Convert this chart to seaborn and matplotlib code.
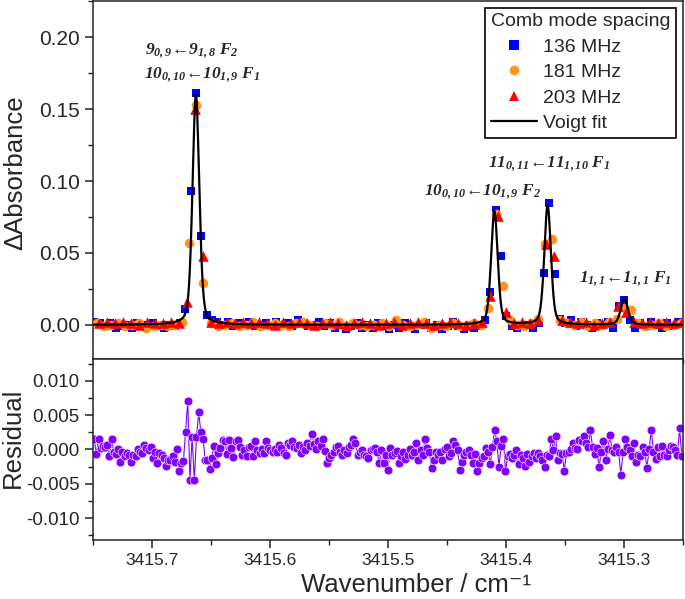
import numpy as np
import matplotlib
matplotlib.use("Agg")
import matplotlib.pyplot as plt
import seaborn as sns
from matplotlib.lines import Line2D
from matplotlib.ticker import MultipleLocator, FormatStrFormatter

# ---------------- data ----------------
comb_labels = ["136 MHz", "181 MHz", "203 MHz"]
comb_spacing_cm = [0.004537, 0.006037, 0.006771]   # comb mode spacing in cm-1
first_wn = [3415.74896, 3415.74694, 3415.74510]     # first sampled wavenumber

abs_136 = [
    0.002, 0.001, -0.001, 0.001, -0.002, -0.001, 0.000, -0.002, 0.001, 0.000,
    -0.001, 0.001, -0.001, -0.002, 0.000, -0.001, 0.001,
    0.011, 0.093, 0.161, 0.062, 0.007,
    0.003, 0.002, 0.000, 0.002, -0.001, 0.001, 0.000, 0.002, -0.001, 0.000,
    0.001, -0.001, 0.002, 0.000, 0.001, -0.001, 0.003, 0.001, -0.001, 0.000,
    0.002, -0.001, 0.001, -0.002, 0.000, -0.003, -0.001, 0.001, -0.002, 0.000,
    -0.002, 0.001, -0.001, -0.003, 0.000, -0.002, 0.001, -0.001, -0.003, 0.000,
    0.001, -0.002, 0.000, -0.003, -0.001, 0.002, -0.001, -0.003, 0.000, -0.002,
    -0.001,
    0.003, 0.023, 0.080, 0.048, 0.006,
    -0.001, -0.002, -0.001, 0.000, -0.002, 0.001,
    0.036, 0.085, 0.035, 0.004,
    0.001, 0.003, -0.001, 0.002, 0.000, -0.002, 0.001, 0.000, 0.002, -0.002,
    0.013, 0.017, 0.003,
    -0.002, 0.001, -0.001, 0.002, 0.000, -0.002, 0.001, -0.001, 0.002,
]
abs_181 = [
    0.001, -0.001, 0.000, 0.001, -0.001, 0.000, 0.001, -0.002, -0.001, 0.000,
    -0.001, 0.000,
    0.002, 0.057, 0.153, 0.029, 0.001,
    -0.001, 0.000, 0.001, -0.001, 0.000, 0.002, -0.001, 0.000, 0.001, 0.000,
    -0.001, 0.001, 0.002, 0.000, -0.001, 0.001, 0.000, 0.002, -0.001, 0.001,
    0.000, -0.001, 0.000, 0.001, -0.001, 0.003, 0.000, -0.001, 0.000, 0.002,
    -0.002, 0.000, -0.001, 0.001, -0.001, 0.000, 0.001, 0.000,
    0.012, 0.077, 0.027, 0.003,
    0.000, -0.001, 0.001,
    0.004, 0.056, 0.060, 0.003,
    0.001, 0.000, 0.002, -0.001, 0.001, 0.000, 0.002,
    0.004, 0.012, 0.010,
    0.001, -0.001, 0.000, 0.001, -0.001, 0.000, 0.001,
]
abs_203 = [
    0.001, 0.002, 0.001, 0.002, 0.001, 0.000, 0.002, 0.001, 0.001, 0.002, 0.001,
    0.016, 0.150, 0.048, 0.002,
    0.001, 0.002, 0.001, 0.002, 0.001, 0.002, 0.001, 0.000, 0.002, 0.001,
    0.002, 0.001, 0.000, 0.001, 0.002, 0.001, 0.000, 0.001, 0.002, 0.001,
    0.000, 0.001, 0.002, 0.000, 0.001, 0.002, 0.001, 0.000, 0.001, 0.002,
    0.001, 0.000, 0.001, 0.002,
    0.020, 0.076, 0.009, 0.001,
    0.002, 0.001,
    0.003, 0.056, 0.048, 0.003,
    0.002, 0.001, 0.002, 0.000, 0.001, 0.002,
    0.013, 0.009,
    0.002, 0.001, 0.002, 0.001, 0.002, 0.001, 0.002,
]

# Voigt fit parameters (pseudo-Voigt)
peak_center = [3415.6628, 3415.4098, 3415.3647, 3415.2997]
peak_height = [0.160, 0.079, 0.083, 0.018]
peak_fwhm = [0.0068, 0.0066, 0.0066, 0.0072]
lorentz_frac = 0.35

# fit residual, in units of 1e-3
resid_milli = [
    1.5, -0.7, 1.5, 0.2, 0.5, 0.3, 0.7, -0.9, 1.5, -0.3, -0.6, 0.0, -1.8, -0.3, -1.0,
    -0.5, -0.8, -1.8, -0.8, -1.0, 0.0, -0.3, -0.5, 0.7, 0.2, -0.1, 0.4, -1.3, -0.3, -2.0,
    -0.5, -0.8, -1.2, -2.4, -1.5, -1.5, -1.0, -1.8, 0.0, -3.2, -1.9, -1.7, 2.6, 7.0, -4.4,
    1.8, -4.5, 1.8, 5.4, 2.6, 1.6, -1.6, -1.6, -2.9, -1.3, 0.5, -2.1, -0.5, 0.2, 1.4,
    1.3, -0.6, 1.4, 0.2, -1.1, 1.2,
    1.4, 0.4, -0.8, -0.1, -1.0, 0.3, 0.5, -1.0, 1.3, -0.1, -0.5, 0.0, -0.5, 1.2, 0.2,
    -0.1, -0.3, 0.0, -0.3, 0.7, 0.2, -0.5, -0.8, 0.9, 0.7, 1.2, 0.4, 0.2, 0.7, -0.5,
    0.3, -0.1, 0.9, 0.5, 2.3, 0.8, 0.0, 1.2, 0.5, 1.6, -0.2, -1.9, -1.3, -0.8, -0.3,
    0.3, 0.5, -0.4, -0.8, -0.1, -0.5, 0.3, 0.7, 1.6, 0.9, -0.8, -0.3, -0.1, -0.8, -1.0,
    -1.3, -0.1, 0.1, 0.2, -0.3, -2.0,
    -0.1, -2.0, -0.8, -3.0, 0.2, -0.8, -0.5, -0.2, -2.0, -1.0, -0.3, -1.4, -0.8, 0.0, -0.8,
    -0.3, 0.9, -1.6, -0.1, -0.8, 1.5, 0.2, -0.3, -2.7, -1.5, -0.3, -0.8, -0.3, -1.5, 0.0,
    0.3, -1.0, -0.5, 1.3, 0.7, -0.1, -3.0, -1.8, -0.8, -0.3, -0.1, -0.8, -2.0, -0.6, -3.1,
    -1.9, -1.3, -1.0, 0.2, -0.3, -2.1, 0.4, 2.9, 1.2, -2.5, 0.5, 1.6, -3.2, -1.0, -0.6,
    -1.3, -0.8, -0.1, -2.1, -0.8, -1.3, -2.4, -0.6, -1.8, -1.0, -0.5, -1.3,
    -0.5, -1.0, -1.5, -2.5, -0.8, -1.0, 1.6, -0.1, 1.9, -1.5, -0.5, -0.6, -3.1, -0.5, -0.3,
    0.0, 1.0, 0.2, 0.0, 1.4, 1.3, 1.9, 1.0, 0.3, 2.8, 0.4, -0.6, 0.2, -2.6, -0.3,
    1.3, -1.6, 0.0, 2.1, -0.1, -0.3, 0.3, -0.3, -3.7, -0.3, 1.5, 0.4, -0.1, -0.9, 0.9,
    -1.8, -0.8, -1.0, 0.3, -0.3, -2.7, 0.0, 2.8, -0.3, -1.4, 0.3, -1.0, 0.5, -0.8, -1.0,
    -0.1, 0.5, 0.3, -0.1, -0.8, 3.1, -0.9,
]

annotations = [
    ("$9_{0,9}$←$9_{1,8}$ $F_2$", 3415.6666, 0.191),
    ("$10_{0,10}$←$10_{1,9}$ $F_1$", 3415.6576, 0.1738),
    ("$11_{0,11}$←$11_{1,10}$ $F_1$", 3415.3638, 0.112),
    ("$10_{0,10}$←$10_{1,9}$ $F_2$", 3415.4196, 0.0929),
    ("$1_{1,1}$←$1_{1,1}$ $F_1$", 3415.2987, 0.0319),
]

# ---------------- style ----------------
sns.set_style("ticks")
plt.rcParams["font.family"] = ["Liberation Sans", "DejaVu Sans"]
plt.rcParams["axes.unicode_minus"] = False
plt.rcParams["mathtext.fontset"] = "custom"
plt.rcParams["mathtext.rm"] = "Liberation Serif:bold:italic"
plt.rcParams["mathtext.it"] = "Liberation Serif:bold:italic"
plt.rcParams["mathtext.bf"] = "Liberation Serif:bold:italic"

colors = ["#0000ff", "#ff9422", "#ff0000"]
markers = ["s", "o", "^"]
sizes = [40, 48, 58]
purple = "#8000ff"

XMIN, XMAX = 3415.75, 3415.25

fig = plt.figure(figsize=(6.85, 5.99), dpi=100)
L, R = 0.1358, 0.997
ax1 = fig.add_axes([L, 0.4007, R - L, 0.999 - 0.4007])
ax2 = fig.add_axes([L, 0.0985, R - L, 0.4007 - 0.0985])

# measured absorbance
series = [abs_136, abs_181, abs_203]
for vals, sp, x0, c, m, s in zip(series, comb_spacing_cm, first_wn, colors, markers, sizes):
    x = x0 - sp * np.arange(len(vals))
    sns.scatterplot(x=x, y=vals, marker=m, color=c, s=s, linewidth=0, ax=ax1, zorder=3)

# Voigt fit
xf = np.linspace(XMIN, XMAX, 3000)
yf = np.zeros_like(xf)
for c0, h, w in zip(peak_center, peak_height, peak_fwhm):
    d2 = 4 * (xf - c0) ** 2 / w ** 2
    yf += h * (lorentz_frac / (1 + d2) + (1 - lorentz_frac) * np.exp(-np.log(2) * d2))
sns.lineplot(x=xf, y=yf, color="black", lw=1.6, ax=ax1, zorder=5, sort=False, estimator=None)

for txt, xa, ya in annotations:
    ax1.text(xa, ya, txt, ha="center", va="center", fontsize=12.5, zorder=6,
             family=["Liberation Serif", "DejaVu Serif"], style="italic", weight="bold")

ax1.set_xlim(XMIN, XMAX)
ax1.set_ylim(-0.0238, 0.2255)
ax1.yaxis.set_major_locator(MultipleLocator(0.05))
ax1.yaxis.set_minor_locator(MultipleLocator(0.025))
ax1.yaxis.set_major_formatter(FormatStrFormatter("%.2f"))
ax1.xaxis.set_major_locator(MultipleLocator(0.1))
ax1.xaxis.set_minor_locator(MultipleLocator(0.05))
ax1.tick_params(axis="x", labelbottom=False)
ax1.tick_params(axis="y", labelsize=15)
ax1.set_ylabel("ΔAbsorbance", fontsize=18.5)
ax1.yaxis.set_label_coords(-0.112, 0.52)
ax1.set_xlabel("")

handles = [Line2D([], [], ls="", marker=m, color=c, markersize=ms, markeredgewidth=0)
           for m, c, ms in zip(markers, colors, [6.5, 7, 7.5])]
handles.append(Line2D([], [], color="black", lw=1.6))
leg = ax1.legend(handles, comb_labels + ["Voigt fit"], title="Comb mode spacing",
                 loc="upper right", bbox_to_anchor=(1 - 7 / 590, 1 - 7 / 359),
                 borderaxespad=0, fontsize=14, title_fontsize=14, fancybox=False,
                 framealpha=1, edgecolor="black", handlelength=2.4, handletextpad=0.3,
                 borderpad=0.3, labelspacing=0.4, alignment="left")
leg.get_frame().set_linewidth(1.2)

# residual
xr = np.linspace(3415.749, 3415.251, len(resid_milli))
yr = np.array(resid_milli) * 1e-3
sns.lineplot(x=xr, y=yr, color=purple, lw=0.8, marker="o", markersize=6.3,
             markeredgecolor="white", markeredgewidth=0.4, ax=ax2, sort=False, estimator=None)
ax2.set_xlim(XMIN, XMAX)
ax2.set_ylim(-0.0132, 0.0132)
ax2.yaxis.set_major_locator(MultipleLocator(0.005))
ax2.yaxis.set_minor_locator(MultipleLocator(0.0025))
ax2.yaxis.set_major_formatter(FormatStrFormatter("%.3f"))
ax2.xaxis.set_major_locator(MultipleLocator(0.1))
ax2.xaxis.set_minor_locator(MultipleLocator(0.05))
ax2.xaxis.set_major_formatter(FormatStrFormatter("%.1f"))
ax2.tick_params(axis="y", labelsize=13.5)
ax2.tick_params(axis="x", labelsize=12.5)
ax2.set_ylabel("Residual", fontsize=18.5)
ax2.yaxis.set_label_coords(-0.115, 0.563)
ax2.set_xlabel("Wavenumber / cm⁻¹", fontsize=18.5)
ax2.xaxis.set_label_coords(0.547, -0.185)

for ax in (ax1, ax2):
    for sp in ax.spines.values():
        sp.set_visible(True)
        sp.set_color("#222222")
        sp.set_linewidth(1.1)
    ax.tick_params(which="major", direction="out", length=6, width=1.1, color="#222222")
    ax.tick_params(which="minor", direction="out", length=3.5, width=1.0, color="#222222")
    ax.tick_params(top=False, right=False)

fig.savefig("out.png", dpi=100)
